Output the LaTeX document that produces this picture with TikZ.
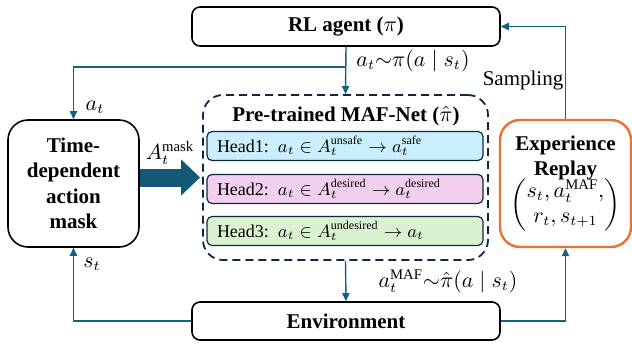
\documentclass[tikz,border=0pt]{standalone}
\usepackage{fontspec}
\setmainfont{Liberation Serif}
\usepackage{amsmath}
\usetikzlibrary{positioning, arrows.meta}

\definecolor{linkblue}{HTML}{156082}
\definecolor{navy}{HTML}{0E2841}
\definecolor{replayorange}{HTML}{E97132}
\definecolor{headone}{HTML}{CAEEFB}
\definecolor{headtwo}{HTML}{F2CFEE}
\definecolor{headthree}{HTML}{DAF2D0}

\begin{document}
\begin{tikzpicture}[
      x=0.5pt, y=-0.5pt,
      block/.style={draw, line width=0.8pt, rounded corners=4pt, align=center, inner sep=0pt, font=\fontsize{10.5}{12.75}\selectfont\bfseries},
      head/.style={draw=navy, line width=0.6pt, rounded corners=2.5pt, minimum width=138pt, minimum height=14.5pt, inner xsep=5pt, inner ysep=0pt, text width=128pt, align=left, font=\fontsize{9}{10}\selectfont},
      lbl/.style={font=\fontsize{10.5}{12}\selectfont},
      link/.style={draw=linkblue, line width=0.7pt, -{Triangle[length=4pt, width=3.6pt]}},
      bigarrow/.style={draw=linkblue!85!navy, line width=9pt, -{Triangle[length=9.5pt, width=17.5pt]}, shorten >=1pt}
    ]
    \useasboundingbox (0,0) rectangle (632,343);

    \node[block, minimum width=154pt, minimum height=19.5pt] (agent) at (346,26.5) {RL agent ($\pi$)};
    \node[block, minimum width=154pt, minimum height=19pt]   (env)   at (346,321)  {Environment};
    \node[block, rounded corners=10pt, minimum width=65.5pt, minimum height=63.5pt] (mask) at (73.5,183.5) {Time-\\dependent\\action\\mask};
    \node[draw=navy, dashed, dash pattern=on 4pt off 2.5pt, line width=0.9pt, rounded corners=10pt, minimum width=142.5pt, minimum height=82.5pt] (maf) at (345.5,177.5) {};
    \node[font=\fontsize{10.5}{12.75}\selectfont\bfseries] (maftitle) at (346,116) {Pre-trained MAF-Net ($\hat{\pi}$)};
    \node[head, fill=headone]   (head1) at (345,146) {Head1: $a_t \in A_t^{\text{unsafe}} \rightarrow a_t^{\text{safe}}$};
    \node[head, fill=headtwo]   (head2) at (345,189) {Head2: $a_t \in A_t^{\text{desired}} \rightarrow a_t^{\text{desired}}$};
    \node[head, fill=headthree] (head3) at (345,231) {Head3: $a_t \in A_t^{\text{undesired}} \rightarrow a_t$};
    \node[block, draw=replayorange, line width=1.2pt, rounded corners=10pt, minimum width=65.5pt, minimum height=63.5pt] (replay) at (565.5,183.5)
      {Experience\\Replay\\[-2pt]{\mdseries$\left(\begin{array}{@{}c@{}} s_t, a_t^{\mathrm{MAF}},\\ r_t, s_{t+1}\end{array}\right)$}};

    \coordinate (branch) at (346,67);
    \draw[link] (agent.south) -- (maf.north);
    \draw[link] (branch) -| (mask.north);
    \draw[link] (replay.north) |- (agent.east);
    \draw[link] (env.east) -| (replay.south);
    \draw[link] (env.west) -| (mask.south);
    \draw[link] (maf.south) -- (env.north);
    \draw[bigarrow] (mask.east |- maf.west) -- (maf.west);

    \node[lbl] (lat)    at (95,107)  {$a_t$};
    \node[lbl] (lpi)    at (413,61)  {$a_t{\sim}\pi(a \mid s_t)$};
    \node[lbl] (lsamp)  at (523,80)  {Sampling};
    \node[lbl] (lst)    at (92,264)  {$s_t$};
    \node[lbl] (lmaf)   at (448,281) {$a_t^{\mathrm{MAF}}{\sim}\hat{\pi}(a \mid s_t)$};
    \node[lbl] (lmask)  at (170,153) {$A_t^{\mathrm{mask}}$};
  \end{tikzpicture}
\end{document}
